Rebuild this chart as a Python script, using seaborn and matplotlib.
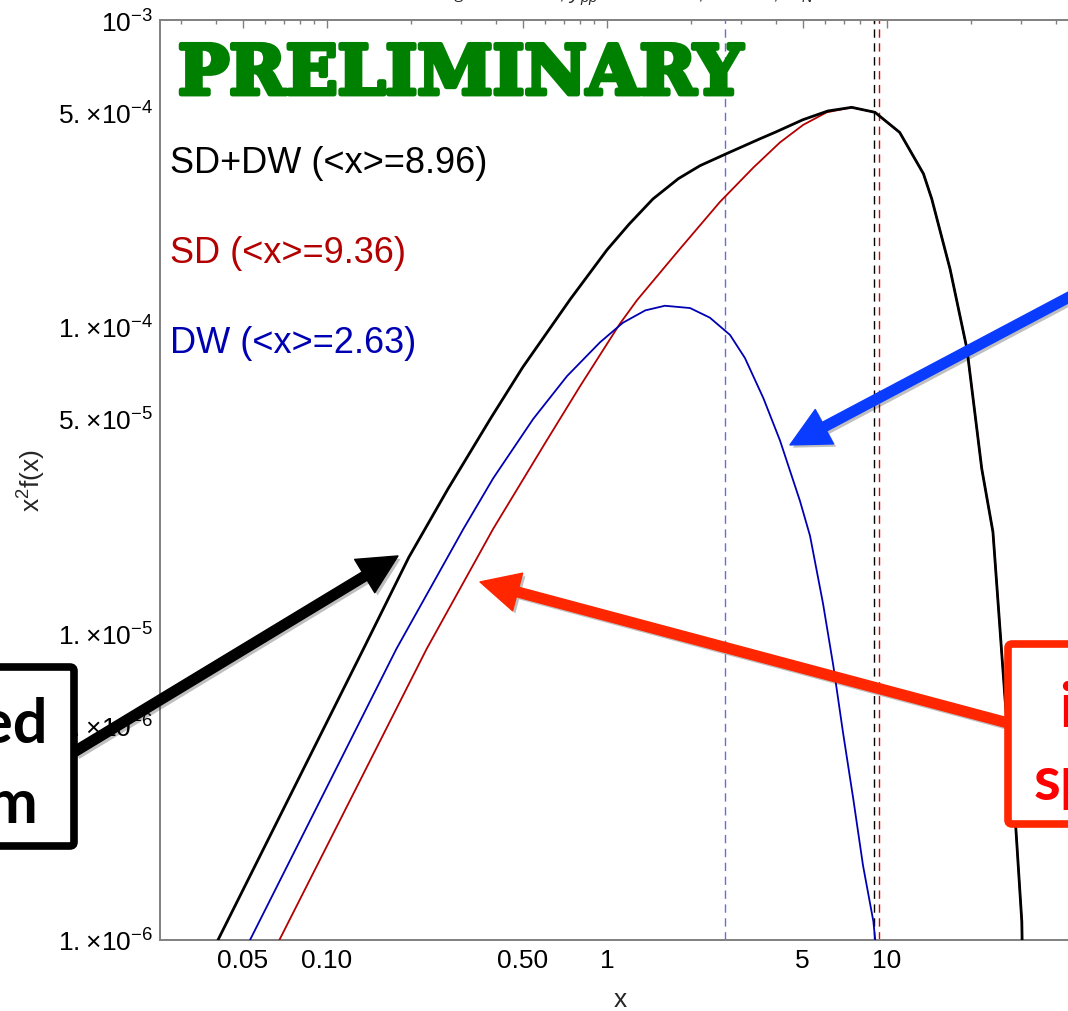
import matplotlib
matplotlib.use("Agg")
import matplotlib.pyplot as plt
import matplotlib.patheffects as pe
from matplotlib.patches import FancyBboxPatch
from matplotlib.ticker import FixedLocator, NullFormatter
import pandas as pd
import seaborn as sns

# x^2 f(x) versus x = p/T for the two production channels and their sum
x_sd_dw = [0.0408, 0.135, 0.196, 0.224, 0.27, 0.385, 0.5, 0.74, 1.0, 1.2, 1.46, 1.8, 2.15,
           2.68, 3.5, 4.0, 5.01, 6.15, 7.48, 9.06, 11.1, 13.5, 14.45, 16.8, 19.3, 21.8,
           23.9, 26.4, 28.6, 30.3, 30.5]
f_sd_dw = [1.0e-6, 8.9e-6, 1.77e-5, 2.19e-5, 2.95e-5, 5.04e-5, 7.37e-5, 1.23e-4, 1.78e-4,
           2.16e-4, 2.61e-4, 3.04e-4, 3.35e-4, 3.67e-4, 4.09e-4, 4.31e-4, 4.73e-4, 5.05e-4,
           5.19e-4, 5.0e-4, 4.3e-4, 3.15e-4, 2.61e-4, 1.54e-4, 8.46e-5, 3.44e-5, 2.14e-5,
           6.11e-6, 2.62e-6, 1.15e-6, 8.0e-7]

x_sd = [0.0676, 0.227, 0.392, 0.601, 0.8, 1.11, 1.28, 1.8, 2.53, 3.33, 4.15, 5.02, 6.09,
        7.48, 9.06, 11.1, 13.5, 14.45, 16.8, 19.3, 21.8, 23.9, 26.4, 28.6, 30.3, 30.5]
f_sd = [1.0e-6, 8.9e-6, 2.19e-5, 4.17e-5, 6.38e-5, 1.02e-4, 1.22e-4, 1.77e-4, 2.55e-4,
        3.3e-4, 3.99e-4, 4.55e-4, 5.0e-4, 5.19e-4, 5.0e-4, 4.3e-4, 3.15e-4, 2.61e-4,
        1.54e-4, 8.46e-5, 3.44e-5, 2.14e-5, 6.11e-6, 2.62e-6, 1.15e-6, 8.0e-7]

x_dw = [0.0531, 0.177, 0.307, 0.392, 0.545, 0.72, 0.944, 1.14, 1.37, 1.61, 1.98, 2.33,
        2.75, 3.11, 3.62, 4.15, 4.89, 5.31, 5.91, 6.43, 6.96, 7.58, 8.21, 8.94, 9.3]
f_dw = [1.0e-6, 8.9e-6, 2.19e-5, 3.2e-5, 5.0e-5, 6.9e-5, 8.89e-5, 1.03e-4, 1.13e-4,
        1.17e-4, 1.15e-4, 1.07e-4, 9.4e-5, 7.9e-5, 5.84e-5, 4.25e-5, 2.7e-5, 2.08e-5,
        1.25e-5, 7.85e-6, 4.77e-6, 2.88e-6, 1.75e-6, 1.15e-6, 8.0e-7]

series_names = ["SD+DW", "SD", "DW"]
mean_x = [8.96, 9.36, 2.63]
curve_colors = ["#000000", "#b30000", "#0000b3"]
label_colors = ["#000000", "#b30000", "#0000b3"]
mean_line_colors = ["#000000", "#e00000", "#6a6ae0"]

x_major = [0.05, 0.1, 0.5, 1, 5, 10, 50]
x_major_labels = ["0.05", "0.10", "0.50", "1", "5", "10", "50"]
y_major = [1e-6, 5e-6, 1e-5, 5e-5, 1e-4, 5e-4, 1e-3]
y_major_labels = [r"$1.\!\times\!10^{-6}$", r"$5.\!\times\!10^{-6}$", r"$1.\!\times\!10^{-5}$",
                  r"$5.\!\times\!10^{-5}$", r"$1.\!\times\!10^{-4}$", r"$5.\!\times\!10^{-4}$",
                  r"$10^{-3}$"]

title_text = r"$m_S$ = 66 GeV, $y_{pp}$ = 1.1 GeV, $\lambda$ = 0.1, $m_N$ = 7.1 keV"
left_box_lines = ["Combined", "spectrum"]
right_box_lines = ["individual", "spectra"]
watermark = "PRELIMINARY"

sns.set_theme(style="white")
plt.rcParams["font.family"] = ["Liberation Sans", "DejaVu Sans"]
plt.rcParams["mathtext.fontset"] = "custom"
plt.rcParams["mathtext.rm"] = "Liberation Sans"
plt.rcParams["mathtext.it"] = "Liberation Sans:italic"
plt.rcParams["mathtext.bf"] = "Liberation Sans:bold"
plt.rcParams["mathtext.sf"] = "Liberation Sans"

W, H = 1068, 1012
fig = plt.figure(figsize=(W / 100, H / 100), dpi=100)
fig.patch.set_facecolor("white")


def fx(px):
    return px / W


def fy(py):
    return 1 - py / H


# frame extends past the right edge of the canvas
ax = fig.add_axes([fx(160), fy(941), fx(1167) - fx(160), fy(21) - fy(941)])
ax.set_xscale("log")
ax.set_yscale("log")
ax.set_xlim(0.02533, 100)
ax.set_ylim(1e-6, 1e-3)
ax.set_facecolor("white")

for m, c in zip(mean_x, mean_line_colors):
    ax.axvline(m, color=c, lw=1.0, ls=(0, (6, 4)), zorder=1)

curves = {
    "SD": (x_sd, f_sd),
    "DW": (x_dw, f_dw),
    "SD+DW": (x_sd_dw, f_sd_dw),
}
widths = {"SD+DW": 2.0, "SD": 1.3, "DW": 1.3}
color_map = dict(zip(series_names, curve_colors))
for name in ["SD", "DW", "SD+DW"]:
    xs, fs = curves[name]
    df = pd.DataFrame({"x": xs, "f": fs})
    sns.lineplot(data=df, x="x", y="f", ax=ax, color=color_map[name], lw=widths[name],
                 estimator=None, sort=False, legend=False, zorder=3)

ax.set_xlabel("")
ax.set_ylabel("")

minor_x = [m * 10.0 ** e for e in range(-2, 3) for m in range(2, 10)
           if not (m == 5 and e < 2)]
minor_y = [m * 10.0 ** e for e in range(-6, -3) for m in range(2, 10) if m != 5]
ax.xaxis.set_major_locator(FixedLocator(x_major))
ax.set_xticklabels(x_major_labels)
ax.xaxis.set_minor_locator(FixedLocator(minor_x))
ax.xaxis.set_minor_formatter(NullFormatter())
ax.yaxis.set_major_locator(FixedLocator(y_major))
ax.set_yticklabels(y_major_labels)
ax.yaxis.set_minor_locator(FixedLocator(minor_y))
ax.yaxis.set_minor_formatter(NullFormatter())

frame_gray = "#808080"
ax.tick_params(which="both", direction="in", top=True, right=True, color=frame_gray,
               labelcolor="black", width=1.0)
ax.tick_params(which="major", length=6)
ax.tick_params(which="minor", length=3)
ax.tick_params(axis="x", which="major", labelsize=19, pad=6)
ax.tick_params(axis="y", which="major", labelsize=19, pad=5)
for s in ax.spines.values():
    s.set_color(frame_gray)
    s.set_linewidth(1.4)

fig.text(fx(32), fy(481), r"$\mathregular{x^2f(x)}$", rotation=90, ha="center",
         va="center", fontsize=19)
fig.text(fx(620), fy(1000), "x", ha="center", va="center", fontsize=19)
fig.text(fx(672), fy(0) + 0.5 / H, title_text, ha="center", va="baseline", fontsize=15)

# channel labels with mean momenta
label_baselines = [173, 263, 353]
for name, m, c, yb in zip(series_names, mean_x, label_colors, label_baselines):
    fig.text(fx(170), fy(yb), f"{name} (<x>={m})", color=c, fontsize=26,
             ha="left", va="baseline")

wm = fig.text(fx(178), fy(95), watermark, color="#008000", fontsize=49,
              family="DejaVu Serif", weight="bold", ha="left", va="baseline", zorder=4)
wm.set_path_effects([pe.withStroke(linewidth=3.5, foreground="#008000")])

shadow = [pe.SimplePatchShadow(offset=(2, -2), shadow_rgbFace="black", alpha=0.25),
          pe.Normal()]

# callout boxes
box_l = FancyBboxPatch((fx(-40), fy(847)), fx(74) - fx(-40), fy(668) - fy(847),
                       boxstyle="round,pad=0,rounding_size=0.004", transform=fig.transFigure,
                       facecolor="white", edgecolor="black", lw=5.5, zorder=5)
box_l.set_path_effects(shadow)
fig.add_artist(box_l)
box_r = FancyBboxPatch((fx(1008), fy(825)), fx(1200) - fx(1008), fy(645) - fy(825),
                       boxstyle="round,pad=0,rounding_size=0.004", transform=fig.transFigure,
                       facecolor="white", edgecolor="#ff2600", lw=5.5, zorder=5)
box_r.set_path_effects(shadow)
fig.add_artist(box_r)

callout_font = dict(family=["Lato", "DejaVu Sans"], weight="bold", fontsize=44, zorder=6)
fig.text(fx(48), fy(743), left_box_lines[0], ha="right", va="baseline", color="black",
         **callout_font)
fig.text(fx(38), fy(823), left_box_lines[1], ha="right", va="baseline", color="black",
         **callout_font)
fig.text(fx(1059), fy(727), right_box_lines[0], ha="left", va="baseline", color="#ff0000",
         **callout_font)
fig.text(fx(1034), fy(800), right_box_lines[1], ha="left", va="baseline", color="#ff0000",
         **callout_font)

# arrows pointing from the callouts to the curves
arrow_style = "simple,head_length=28,head_width=28,tail_width=7"
arrows = [
    ((0.1793, 1.788e-5), (fx(74), fy(753)), "black"),
    ((0.352, 1.471e-5), (fx(1008), fy(724)), "#ff2600"),
    ((4.503, 4.115e-5), (fx(1090), fy(287)), "#0a3cff"),
]
for tip, tail, col in arrows:
    ann = ax.annotate("", xy=tip, xycoords="data", xytext=tail, textcoords="figure fraction",
                      arrowprops=dict(arrowstyle=arrow_style, color=col, shrinkA=0, shrinkB=0,
                                      mutation_scale=1),
                      annotation_clip=False, zorder=6)
    ann.arrow_patch.set_path_effects(shadow)

fig.savefig("out.png", dpi=100, facecolor="white")
